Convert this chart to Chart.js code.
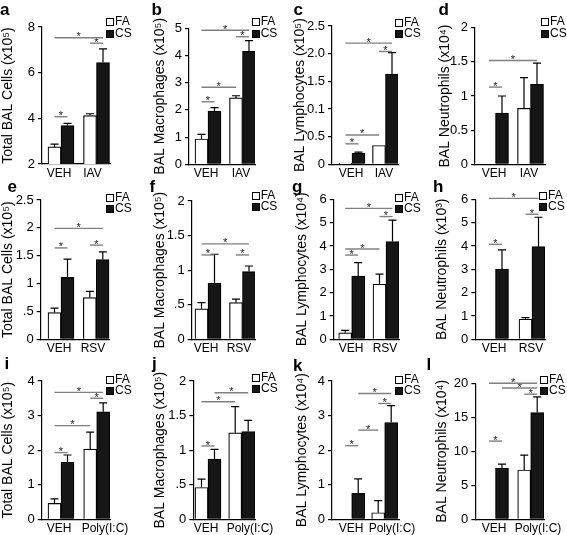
<!DOCTYPE html>
<html>
<head>
<meta charset="utf-8">
<script src="https://cdn.jsdelivr.net/npm/chart.js@4.4.1/dist/chart.umd.min.js"></script>
<style>
  body { margin: 0; background: #fff; width: 567px; height: 535px; position: relative; overflow: hidden; }
  canvas { position: absolute; }
  .lt { position: absolute; font: bold 17px/17px "Liberation Sans", Arial, sans-serif; color: #000; }
  .lg { position: absolute; font: 12px/11.5px "Liberation Sans", Arial, sans-serif; color: #000; }
  .lg i { display: inline-block; width: 6px; height: 6px; border: 1px solid #000; margin-right: 1px; vertical-align: -1px; }
  .lg i.cs { background: #161616; }
</style>
</head>
<body>
<script>
// categories
const catIAV = ["VEH", "IAV"];
const catRSV = ["VEH", "RSV"];
const catPoly = ["VEH", "Poly(I:C)"];

// a - total BAL cells, IAV
const aFA = [2.75, 4.12], aFAerr = [0.12, 0.08];
const aCS = [3.68, 6.44], aCSerr = [0.1, 0.6];
const aTicks = [2, 4, 6, 8], aTickLabels = ["2", "4", "6", "8"];
const aSig = [[0, 0, 0, 1, 4.07], [1, 0, 1, 1, 7.29], [0, 0, 1, 1, 7.53]];

// b - macrophages, IAV
const bFA = [0.93, 2.44], bFAerr = [0.17, 0.08];
const bCS = [1.96, 4.15], bCSerr = [0.12, 0.4];
const bTicks = [0, 1, 2, 3, 4, 5], bTickLabels = ["0", "1", "2", "3", "4", "5"];
const bSig = [[0, 0, 0, 1, 2.3], [0, 0, 1, 0, 2.83], [1, 0, 1, 1, 4.69], [0, 0, 1, 1, 4.93]];

// c - lymphocytes, IAV
const cFA = [0.02, 0.34], cFAerr = [0, 0];
const cCS = [0.2, 1.63], cCSerr = [0.02, 0.39];
const cTicks = [0, 0.5, 1, 1.5, 2, 2.5], cTickLabels = ["0", "0.5", "0.1", "1.5", "2.0", "2.5"];
const cSig = [[0, 0, 0, 1, 0.37], [0, 0, 1, 0, 0.53], [1, 0, 1, 1, 2.04], [0, 0, 1, 1, 2.19]];

// d - neutrophils, IAV
const dFA = [0, 0.82], dFAerr = [0, 0.45];
const dCS = [0.75, 1.17], dCSerr = [0.25, 0.31];
const dTicks = [0, 0.5, 1, 1.5, 2], dTickLabels = ["0", "0.5", "1", "1.5", "2"];
const dSig = [[0, 0, 0, 1, 1.13], [0, 0, 1, 1, 1.52]];

// e - total BAL cells, RSV
const eFA = [0.48, 0.75], eFAerr = [0.08, 0.11];
const eCS = [1.11, 1.43], eCSerr = [0.33, 0.14];
const eTicks = [0, 0.5, 1, 1.5, 2, 2.5], eTickLabels = ["0", ".5", "1", "1.5", "2", "2.5"];
const eSig = [[0, 0, 0, 1, 1.64], [1, 0, 1, 1, 1.69], [0, 0, 1, 1, 1.99]];

// f - macrophages, RSV
const fFA = [0.44, 0.53], fFAerr = [0.09, 0.05];
const fCS = [0.81, 0.98], fCSerr = [0.42, 0.08];
const fTicks = [0, 0.5, 1, 1.5, 2], fTickLabels = ["0", ".5", "1", "1.5", "2"];
const fSig = [[0, 0, 0, 1, 1.22], [1, 0, 1, 1, 1.22], [0, 0, 1, 1, 1.38]];

// g - lymphocytes, RSV
const gFA = [0.28, 2.36], gFAerr = [0.1, 0.43];
const gCS = [2.71, 4.19], gCSerr = [0.58, 0.92];
const gTicks = [0, 1, 2, 3, 4, 5, 6], gTickLabels = ["0", "1", "2", "3", "4", "5", "6"];
const gSig = [[0, 0, 0, 1, 3.61], [0, 0, 1, 0, 3.87], [1, 0, 1, 1, 5.26], [0, 0, 1, 1, 5.61]];

// h - neutrophils, RSV
const hFA = [0, 0.86], hFAerr = [0, 0.07];
const hCS = [3.01, 3.97], hCSerr = [0.82, 1.26];
const hTicks = [0, 1, 2, 3, 4, 5, 6], hTickLabels = ["0", "1", "2", "3", "4", "5", "6"];
const hSig = [[0, 0, 0, 1, 4.07], [1, 0, 1, 1, 5.36], [0, 0, 1, 1, 6.04]];

// i - total BAL cells, Poly(I:C)
const iFA = [0.46, 2.03], iFAerr = [0.13, 0.49];
const iCS = [1.65, 3.11], iCSerr = [0.21, 0.26];
const iTicks = [0, 1, 2, 3, 4], iTickLabels = ["0", "1", "2", "3", "4"];
const iSig = [[0, 0, 0, 1, 1.93], [0, 0, 1, 0, 2.71], [1, 0, 1, 1, 3.5], [0, 0, 1, 1, 3.67]];

// j - macrophages, Poly(I:C)
const jFA = [0.46, 1.25], jFAerr = [0.12, 0.38];
const jCS = [0.87, 1.27], jCSerr = [0.14, 0.16];
const jTicks = [0, 0.5, 1, 1.5, 2], jTickLabels = ["0", ".5", "1", "1.5", "2"];
const jSig = [[0, 0, 0, 1, 1.06], [0, 0, 1, 0, 1.7], [0, 1, 1, 1, 1.83]];

// k - lymphocytes, Poly(I:C)
const kFA = [0, 0.19], kFAerr = [0, 0.35];
const kCS = [0.75, 2.8], kCSerr = [0.42, 0.49];
const kTicks = [0, 1, 2, 3, 4], kTickLabels = ["0", "1", "2", "3", "4"];
const kSig = [[0, 0, 0, 1, 2.13], [0, 1, 1, 0, 2.58], [1, 0, 1, 1, 3.35], [0, 1, 1, 1, 3.64]];

// l - neutrophils, Poly(I:C)
const lFA = [0, 7.25], lFAerr = [0, 2.2];
const lCS = [7.5, 15.7], lCSerr = [0.6, 2.3];
const lTicks = [0, 5, 10, 15, 20], lTickLabels = ["0", "5", "10", "15", "20"];
const lSig = [[0, 0, 0, 1, 11.5], [1, 0, 1, 1, 18.4], [0, 1, 1, 1, 19.3], [0, 0, 1, 1, 20.0]];

const FONT = '"Liberation Sans", Arial, sans-serif';

// panel boxes: tx = title centre, plot area left/top/right/bottom, c0/c1 = group centres, labs = label centres
const panels = [
  { id: "a", cats: catIAV, fa: aFA, faErr: aFAerr, cs: aCS, csErr: aCSerr, ticks: aTicks, labels: aTickLabels, sig: aSig, title: "Total BAL Cells (x10⁵)",
    box: { tx: 8, T: 0, H: 180, left: 42, top: 27, right: 110, bottom: 164, c0: 61, c1: 96.5, labs: [59, 92.5] }, letter: [0, 15], legend: [106, 22] },
  { id: "b", cats: catIAV, fa: bFA, faErr: bFAerr, cs: bCS, csErr: bCSerr, ticks: bTicks, labels: bTickLabels, sig: bSig, title: "BAL Macrophages (x10⁵)",
    box: { tx: 160, T: 0, H: 180, left: 189, top: 28.3, right: 255, bottom: 164.3, c0: 208, c1: 242.5, labs: [206, 241] }, letter: [151.5, 15], legend: [251.7, 22] },
  { id: "c", cats: catIAV, fa: cFA, faErr: cFAerr, cs: cCS, csErr: cCSerr, ticks: cTicks, labels: cTickLabels, sig: cSig, title: "BAL Lymphocytes (x10⁵)",
    box: { tx: 300, T: 0, H: 180, left: 332, top: 26, right: 398, bottom: 164.3, c0: 352, c1: 385.5, labs: [351, 384] }, letter: [293.5, 15], legend: [395, 22.5] },
  { id: "d", cats: catIAV, fa: dFA, faErr: dFAerr, cs: dCS, csErr: dCSerr, ticks: dTicks, labels: dTickLabels, sig: dSig, title: "BAL Neutrophils (x10⁴)",
    box: { tx: 445, T: 0, H: 180, left: 475, top: 27.7, right: 545, bottom: 164.3, c0: 495.5, c1: 530.5, labs: [494, 529] }, letter: [438.5, 15], legend: [541, 22] },
  { id: "e", cats: catRSV, fa: eFA, faErr: eFAerr, cs: eCS, csErr: eCSerr, ticks: eTicks, labels: eTickLabels, sig: eSig, title: "Total BAL Cells (x10⁵)",
    box: { tx: 8, T: 175, H: 180, left: 40.7, top: 200, right: 109.3, bottom: 339.3, c0: 61, c1: 96.3, labs: [59, 93] }, letter: [7.5, 192], legend: [106, 197.5] },
  { id: "f", cats: catRSV, fa: fFA, faErr: fFAerr, cs: fCS, csErr: fCSerr, ticks: fTicks, labels: fTickLabels, sig: fSig, title: "BAL Macrophages (x10⁵)",
    box: { tx: 160, T: 175, H: 180, left: 191.7, top: 201, right: 255, bottom: 339.3, c0: 208, c1: 242.5, labs: [206, 239] }, letter: [149.5, 192], legend: [251.7, 195.5] },
  { id: "g", cats: catRSV, fa: gFA, faErr: gFAerr, cs: gCS, csErr: gCSerr, ticks: gTicks, labels: gTickLabels, sig: gSig, title: "BAL Lymphocytes (x10⁴)",
    box: { tx: 302, T: 175, H: 180, left: 333.7, top: 199.3, right: 399, bottom: 339.3, c0: 351.7, c1: 386, labs: [351, 385] }, letter: [292, 192], legend: [395, 197.5] },
  { id: "h", cats: catRSV, fa: hFA, faErr: hFAerr, cs: hCS, csErr: hCSerr, ticks: hTicks, labels: hTickLabels, sig: hSig, title: "BAL Neutrophils (x10³)",
    box: { tx: 442, T: 175, H: 180, left: 475.3, top: 199.3, right: 545, bottom: 339.3, c0: 495.5, c1: 532, labs: [494, 531] }, letter: [433, 192], legend: [539, 195.5] },
  { id: "i", cats: catPoly, fa: iFA, faErr: iFAerr, cs: iCS, csErr: iCSerr, ticks: iTicks, labels: iTickLabels, sig: iSig, title: "Total BAL Cells (x10⁵)",
    box: { tx: 8, T: 352, H: 183, left: 41.7, top: 381, right: 110, bottom: 519.3, c0: 61, c1: 96.7, labs: [59, 105] }, letter: [4.5, 369], legend: [106, 379.5] },
  { id: "j", cats: catPoly, fa: jFA, faErr: jFAerr, cs: jCS, csErr: jCSerr, ticks: jTicks, labels: jTickLabels, sig: jSig, title: "BAL Macrophages (x10⁵)",
    box: { tx: 160, T: 352, H: 183, left: 193.3, top: 381, right: 255, bottom: 519.3, c0: 208, c1: 241.7, labs: [206, 250] }, letter: [152, 369], legend: [252, 377.5] },
  { id: "k", cats: catPoly, fa: kFA, faErr: kFAerr, cs: kCS, csErr: kCSerr, ticks: kTicks, labels: kTickLabels, sig: kSig, title: "BAL Lymphocytes (x10⁴)",
    box: { tx: 302, T: 352, H: 183, left: 332, top: 381, right: 399, bottom: 519.3, c0: 351.7, c1: 384.7, labs: [351, 392] }, letter: [293, 371], legend: [395, 379.5] },
  { id: "l", cats: catPoly, fa: lFA, faErr: lFAerr, cs: lCS, csErr: lCSerr, ticks: lTicks, labels: lTickLabels, sig: lSig, title: "BAL Neutrophils (x10⁴)",
    box: { tx: 442, T: 352, H: 183, left: 475.3, top: 383.3, right: 544, bottom: 519.3, c0: 495.5, c1: 530.7, labs: [494, 538] }, letter: [426.5, 370], legend: [540, 379.5] }
];

// error bars + significance brackets, all through the y scale
const makeMarks = (sig) => ({
  id: "marks",
  afterDatasetsDraw(chart) {
    const ctx = chart.ctx;
    const y = chart.scales.y;
    ctx.save();
    ctx.strokeStyle = "#000";
    ctx.lineWidth = 1.2;
    chart.data.datasets.forEach((ds, di) => {
      chart.getDatasetMeta(di).data.forEach((bar, i) => {
        const e = ds.err[i];
        if (!e) return;
        const top = y.getPixelForValue(ds.data[i].y + e);
        ctx.beginPath();
        ctx.moveTo(bar.x, bar.y);
        ctx.lineTo(bar.x, top);
        ctx.moveTo(bar.x - 4, top);
        ctx.lineTo(bar.x + 4, top);
        ctx.stroke();
      });
    });
    ctx.strokeStyle = "#808080";
    ctx.lineWidth = 1.4;
    ctx.fillStyle = "#222";
    ctx.font = "11px " + FONT;
    ctx.textAlign = "center";
    sig.forEach(([c1, d1, c2, d2, v]) => {
      const x1 = chart.getDatasetMeta(d1).data[c1].x;
      const x2 = chart.getDatasetMeta(d2).data[c2].x;
      const yy = y.getPixelForValue(v);
      ctx.beginPath();
      ctx.moveTo(x1, yy);
      ctx.lineTo(x2, yy);
      ctx.stroke();
      ctx.fillText("*", (x1 + x2) / 2, yy + 2.5);
    });
    ctx.restore();
  }
});

Chart.defaults.font.family = FONT;
Chart.defaults.color = "#000";

panels.forEach((p) => {
  const b = p.box;
  const L = Math.floor(b.tx - 8.4);
  const W = Math.round(b.right - L + 34);
  const u = b.c1 - b.c0;

  const cv = document.createElement("canvas");
  cv.width = W;
  cv.height = b.H;
  cv.style.left = L + "px";
  cv.style.top = b.T + "px";
  document.body.appendChild(cv);

  new Chart(cv, {
    type: "bar",
    data: {
      datasets: [
        { label: "FA", data: p.fa.map((v, i) => ({ x: i, y: v })), err: p.faErr,
          backgroundColor: "#fff", borderColor: "#000", borderWidth: 1.2, barThickness: 13 },
        { label: "CS", data: p.cs.map((v, i) => ({ x: i, y: v })), err: p.csErr,
          backgroundColor: "#161616", borderColor: "#000", borderWidth: 1.2, barThickness: 13 }
      ]
    },
    options: {
      responsive: false,
      animation: false,
      events: [],
      layout: { padding: { left: 0, top: b.top - b.T, right: W - (b.right - L), bottom: 0 } },
      plugins: { legend: { display: false }, tooltip: { enabled: false } },
      scales: {
        x: {
          type: "linear",
          offset: false,
          min: -(b.c0 - b.left) / u,
          max: 1 + (b.right - b.c1) / u,
          grid: { display: false, drawTicks: false },
          border: { display: true, color: "#000", width: 1.2 },
          ticks: { font: { size: 12 }, padding: 2, maxRotation: 0, autoSkip: false,
                   callback: (v, i) => p.cats[i] },
          afterBuildTicks: (s) => { s.ticks = b.labs.map((px) => ({ value: (px - b.c0) / u })); },
          afterFit: (s) => { s.height = b.T + b.H - b.bottom; }
        },
        y: {
          min: p.ticks[0],
          max: p.ticks[p.ticks.length - 1],
          grid: { drawOnChartArea: false, drawTicks: true, tickLength: 4, color: "#000", lineWidth: 1.2 },
          border: { display: true, color: "#000", width: 1.2 },
          ticks: { font: { size: 13 }, padding: 3, callback: (v) => p.labels[p.ticks.indexOf(v)] },
          afterBuildTicks: (s) => { s.ticks = p.ticks.map((v) => ({ value: v })); },
          afterFit: (s) => { s.width = b.left - L; },
          title: { display: true, text: p.title, color: "#000",
                   font: { size: 14 }, padding: { top: b.tx - 8.4 - L, bottom: 0 } }
        }
      }
    },
    plugins: [makeMarks(p.sig)]
  });

  const lt = document.createElement("div");
  lt.className = "lt";
  lt.textContent = p.id;
  lt.style.left = p.letter[0] + "px";
  lt.style.top = (p.letter[1] - 14.4) + "px";
  document.body.appendChild(lt);

  const lg = document.createElement("div");
  lg.className = "lg";
  lg.innerHTML = '<div><i></i>FA</div><div><i class="cs"></i>CS</div>';
  lg.style.left = p.legend[0] + "px";
  lg.style.top = (p.legend[1] - 6) + "px";
  document.body.appendChild(lg);
});
</script>
</body>
</html>
